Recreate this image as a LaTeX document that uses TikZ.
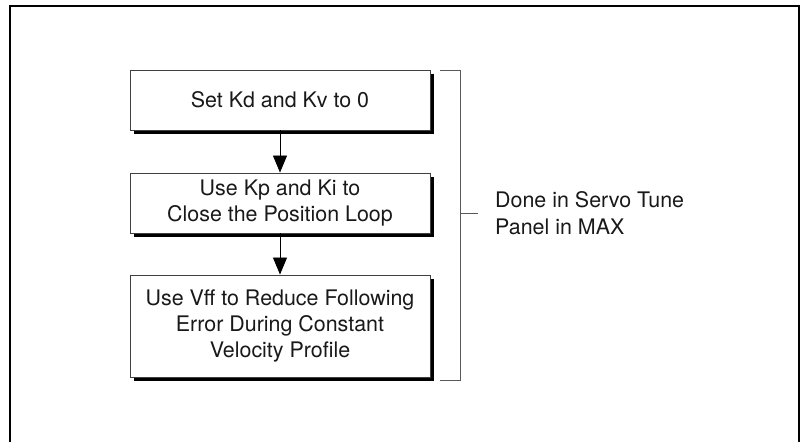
\documentclass[tikz,border=0pt]{standalone}
\usepackage{fontspec}
\setmainfont{TeX Gyre Heros}
\usetikzlibrary{positioning}
\usetikzlibrary{arrows.meta,shadows}

\begin{document}
\begin{tikzpicture}[x=1bp,y=-1bp,
    stepbox/.style={draw=black!75,line width=0.9bp,fill=white,text=black!90,
        minimum width=300bp,align=center,font=\fontsize{21.5}{26.5}\selectfont,
        drop shadow={shadow xshift=4bp,shadow yshift=-4bp,fill=black,opacity=1}},
    flow/.style={-{Triangle[width=14bp,length=17bp]},line width=0.9bp}]
    \useasboundingbox (0,0) rectangle (801,442);
    \draw [line width=2bp] (10,442) -- (10,6) -- (799,6) -- (799,442);

    \path (280,100) node [stepbox,minimum height=60bp] (kd) {Set Kd and Kv to 0};
    \path (280,203) node [stepbox,minimum height=60bp] (kp) {Use Kp and Ki to\\Close the Position Loop};
    \draw [flow] (kd) -- (kp);
    \path (280,326) node [stepbox,minimum height=102bp] (vff) {Use Vff to Reduce Following\\Error During Constant\\Velocity Profile};
    \draw [flow] (kp) -- (vff);

    \draw [black!65,line width=0.9bp] (440,70) -- (460,70) -- (460,380) -- (440,380);
    \coordinate (brk) at (460,213);
    \path (495,213) node [anchor=west,align=left,inner sep=0,text=black!90,
        font=\fontsize{21.5}{26.5}\selectfont] (done) {Done in Servo Tune\\Panel in MAX};
    \draw [black!65,line width=0.9bp] (brk) -- ([xshift=-17bp]done.west);
\end{tikzpicture}
\end{document}
